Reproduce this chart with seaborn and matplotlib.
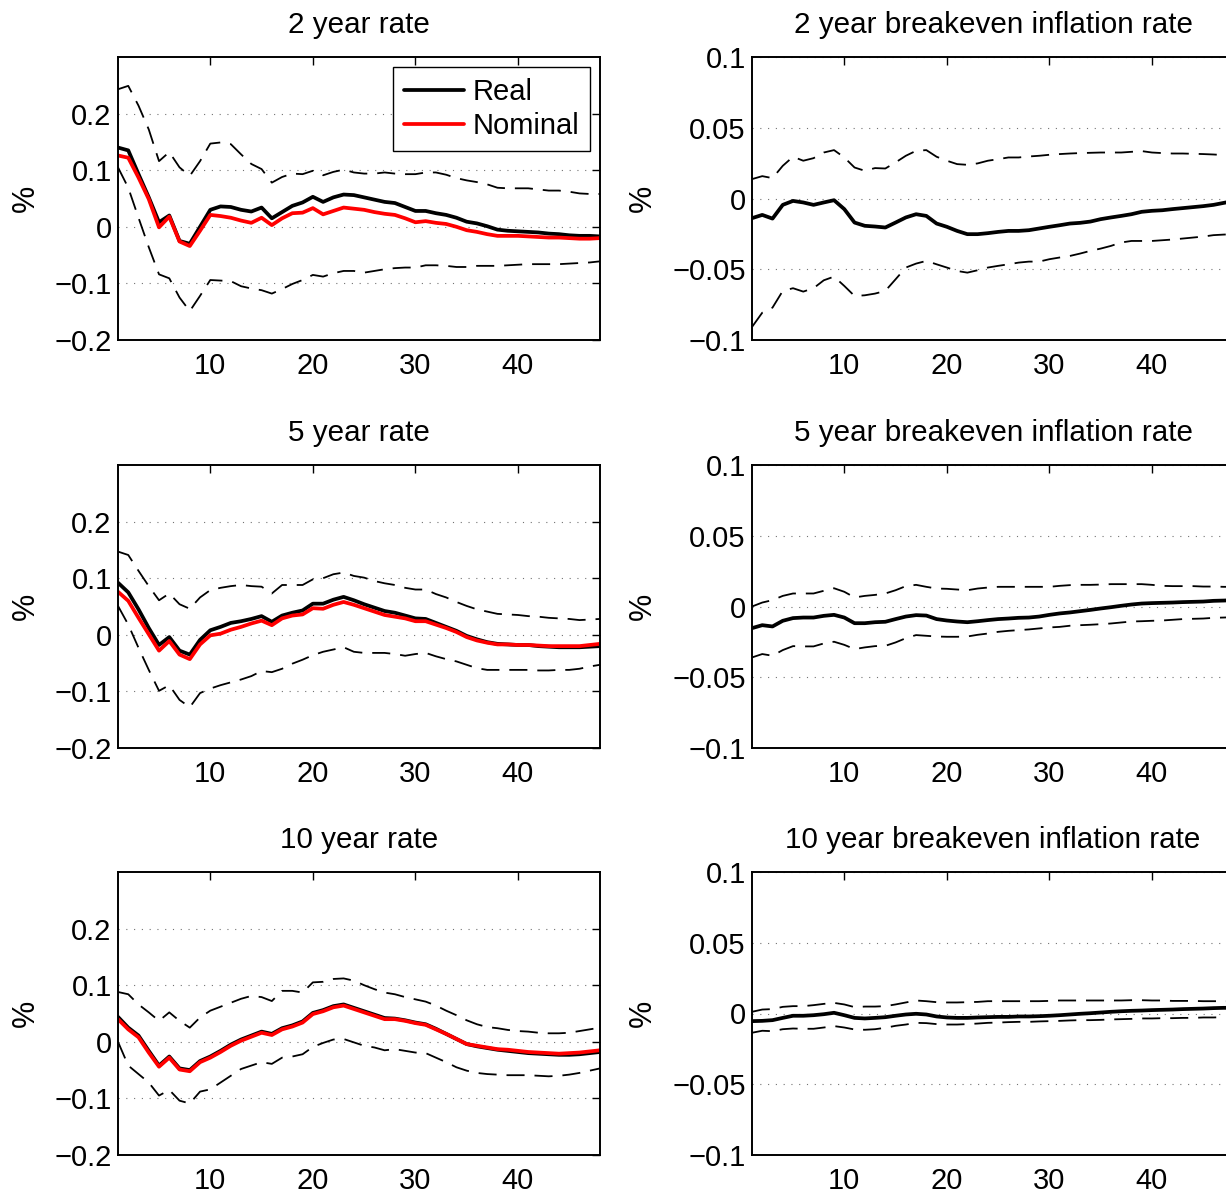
import matplotlib
matplotlib.use("Agg")
import matplotlib.pyplot as plt
import seaborn as sns

# Impulse-response horizon (months)
horizon = list(range(1, 49))

# ---- 2 year rate ----
real_2y = [0.140, 0.135, 0.093, 0.052, 0.008, 0.020, -0.025, -0.030, 0.000, 0.030,
           0.036, 0.035, 0.030, 0.027, 0.034, 0.015, 0.026, 0.037, 0.043, 0.053,
           0.044, 0.052, 0.057, 0.056, 0.052, 0.048, 0.044, 0.042, 0.035, 0.028,
           0.028, 0.024, 0.021, 0.016, 0.009, 0.006, 0.001, -0.005, -0.007, -0.008,
           -0.009, -0.010, -0.012, -0.013, -0.015, -0.016, -0.016, -0.017]
nominal_2y = [0.126, 0.122, 0.087, 0.049, -0.001, 0.018, -0.026, -0.034, -0.007, 0.021,
              0.019, 0.016, 0.011, 0.007, 0.016, 0.003, 0.015, 0.024, 0.025, 0.033,
              0.022, 0.028, 0.034, 0.032, 0.030, 0.026, 0.023, 0.021, 0.015, 0.008,
              0.010, 0.007, 0.005, 0.000, -0.006, -0.009, -0.013, -0.016, -0.016, -0.016,
              -0.017, -0.018, -0.019, -0.019, -0.020, -0.021, -0.021, -0.020]
upper_2y = [0.243, 0.249, 0.214, 0.172, 0.116, 0.132, 0.105, 0.090, 0.116, 0.147,
            0.149, 0.146, 0.128, 0.111, 0.102, 0.078, 0.088, 0.094, 0.093, 0.099,
            0.091, 0.097, 0.101, 0.096, 0.094, 0.094, 0.096, 0.094, 0.093, 0.093,
            0.096, 0.096, 0.092, 0.086, 0.082, 0.079, 0.075, 0.069, 0.068, 0.068,
            0.068, 0.066, 0.064, 0.064, 0.062, 0.059, 0.058, 0.058]
lower_2y = [0.105, 0.069, 0.016, -0.036, -0.084, -0.091, -0.125, -0.149, -0.122, -0.094,
            -0.095, -0.096, -0.105, -0.109, -0.112, -0.118, -0.110, -0.101, -0.094, -0.085,
            -0.088, -0.082, -0.078, -0.078, -0.081, -0.078, -0.075, -0.073, -0.072, -0.072,
            -0.068, -0.068, -0.069, -0.071, -0.071, -0.069, -0.069, -0.069, -0.068, -0.067,
            -0.066, -0.066, -0.066, -0.066, -0.065, -0.064, -0.063, -0.061]

# ---- 5 year rate ----
real_5y = [0.092, 0.075, 0.045, 0.012, -0.018, -0.004, -0.028, -0.035, -0.009, 0.008,
           0.014, 0.021, 0.024, 0.028, 0.033, 0.023, 0.034, 0.039, 0.043, 0.055,
           0.055, 0.062, 0.067, 0.061, 0.054, 0.048, 0.042, 0.039, 0.034, 0.029,
           0.028, 0.021, 0.014, 0.007, -0.002, -0.008, -0.013, -0.016, -0.017, -0.018,
           -0.018, -0.020, -0.021, -0.022, -0.022, -0.022, -0.021, -0.020]
nominal_5y = [0.076, 0.060, 0.030, 0.001, -0.028, -0.011, -0.035, -0.043, -0.017, -0.001,
              0.002, 0.009, 0.014, 0.020, 0.025, 0.017, 0.029, 0.034, 0.036, 0.047,
              0.046, 0.053, 0.058, 0.053, 0.047, 0.041, 0.035, 0.032, 0.029, 0.024,
              0.024, 0.018, 0.012, 0.005, -0.004, -0.010, -0.014, -0.017, -0.017, -0.018,
              -0.018, -0.019, -0.020, -0.020, -0.020, -0.020, -0.018, -0.016]
upper_5y = [0.147, 0.141, 0.113, 0.086, 0.061, 0.073, 0.054, 0.046, 0.066, 0.079,
            0.083, 0.086, 0.088, 0.086, 0.085, 0.073, 0.088, 0.088, 0.088, 0.098,
            0.100, 0.107, 0.110, 0.104, 0.101, 0.095, 0.091, 0.088, 0.083, 0.080,
            0.080, 0.072, 0.066, 0.058, 0.051, 0.045, 0.041, 0.037, 0.036, 0.035,
            0.033, 0.032, 0.030, 0.029, 0.028, 0.026, 0.027, 0.028]
lower_5y = [0.051, 0.018, -0.023, -0.062, -0.099, -0.089, -0.115, -0.128, -0.103, -0.095,
            -0.089, -0.084, -0.079, -0.073, -0.064, -0.066, -0.060, -0.051, -0.044, -0.036,
            -0.030, -0.026, -0.022, -0.030, -0.032, -0.032, -0.032, -0.034, -0.037, -0.034,
            -0.032, -0.038, -0.043, -0.047, -0.053, -0.059, -0.062, -0.062, -0.062, -0.062,
            -0.062, -0.063, -0.063, -0.062, -0.062, -0.060, -0.056, -0.053]

# ---- 10 year rate ----
real_10y = [0.044, 0.025, 0.011, -0.016, -0.042, -0.026, -0.047, -0.050, -0.034, -0.026,
            -0.016, -0.005, 0.004, 0.011, 0.018, 0.014, 0.024, 0.029, 0.036, 0.051,
            0.056, 0.063, 0.066, 0.060, 0.054, 0.048, 0.042, 0.041, 0.038, 0.034,
            0.031, 0.023, 0.014, 0.005, -0.004, -0.008, -0.011, -0.014, -0.016, -0.018,
            -0.020, -0.021, -0.022, -0.023, -0.023, -0.022, -0.020, -0.018]
nominal_10y = [0.040, 0.022, 0.008, -0.019, -0.044, -0.028, -0.049, -0.052, -0.036, -0.028,
               -0.018, -0.007, 0.002, 0.009, 0.016, 0.012, 0.022, 0.027, 0.034, 0.049,
               0.054, 0.061, 0.064, 0.058, 0.052, 0.046, 0.040, 0.040, 0.037, 0.033,
               0.030, 0.022, 0.014, 0.005, -0.004, -0.007, -0.010, -0.013, -0.014, -0.016,
               -0.018, -0.019, -0.020, -0.021, -0.020, -0.019, -0.017, -0.015]
upper_10y = [0.088, 0.084, 0.066, 0.052, 0.037, 0.052, 0.037, 0.025, 0.043, 0.055,
             0.062, 0.069, 0.076, 0.081, 0.079, 0.072, 0.090, 0.090, 0.087, 0.105,
             0.106, 0.111, 0.112, 0.108, 0.100, 0.093, 0.087, 0.084, 0.079, 0.075,
             0.071, 0.064, 0.055, 0.047, 0.038, 0.031, 0.026, 0.024, 0.021, 0.019,
             0.018, 0.016, 0.015, 0.015, 0.016, 0.019, 0.022, 0.025]
lower_10y = [0.000, -0.042, -0.057, -0.072, -0.095, -0.085, -0.104, -0.109, -0.088, -0.084,
             -0.072, -0.060, -0.048, -0.042, -0.036, -0.039, -0.028, -0.026, -0.022, -0.009,
             -0.002, 0.004, 0.005, -0.001, -0.007, -0.010, -0.015, -0.013, -0.016, -0.019,
             -0.020, -0.028, -0.036, -0.045, -0.051, -0.055, -0.057, -0.058, -0.059, -0.059,
             -0.059, -0.060, -0.061, -0.060, -0.058, -0.055, -0.051, -0.047]

# ---- 2 year breakeven inflation rate ----
bei_2y = [-0.0139, -0.0116, -0.0142, -0.0045, -0.0017, -0.0028, -0.0045, -0.0028, -0.0012, -0.0075,
          -0.0170, -0.0193, -0.0198, -0.0205, -0.0170, -0.0134, -0.0111, -0.0123, -0.0177, -0.0200,
          -0.0229, -0.0252, -0.0252, -0.0245, -0.0236, -0.0229, -0.0229, -0.0224, -0.0212, -0.0200,
          -0.0189, -0.0177, -0.0172, -0.0163, -0.0146, -0.0134, -0.0123, -0.0111, -0.0094, -0.0087,
          -0.0083, -0.0075, -0.0068, -0.0061, -0.0054, -0.0045, -0.0031, -0.0017]
bei_2y_upper = [0.0137, 0.0158, 0.0144, 0.0231, 0.0295, 0.0267, 0.0285, 0.0325, 0.0342, 0.0290,
                0.0219, 0.0196, 0.0215, 0.0212, 0.0255, 0.0302, 0.0337, 0.0342, 0.0295, 0.0267,
                0.0243, 0.0238, 0.0248, 0.0267, 0.0278, 0.0290, 0.0290, 0.0297, 0.0302, 0.0309,
                0.0314, 0.0318, 0.0321, 0.0323, 0.0325, 0.0325, 0.0325, 0.0330, 0.0335, 0.0325,
                0.0321, 0.0318, 0.0318, 0.0316, 0.0314, 0.0311, 0.0307, 0.0302]
bei_2y_lower = [-0.0908, -0.0807, -0.0771, -0.0653, -0.0634, -0.0658, -0.0634, -0.0578, -0.0552, -0.0618,
                -0.0689, -0.0684, -0.0672, -0.0653, -0.0571, -0.0488, -0.0460, -0.0441, -0.0465, -0.0488,
                -0.0512, -0.0524, -0.0507, -0.0488, -0.0476, -0.0465, -0.0453, -0.0446, -0.0446, -0.0429,
                -0.0417, -0.0406, -0.0389, -0.0370, -0.0354, -0.0335, -0.0311, -0.0300, -0.0300, -0.0300,
                -0.0295, -0.0290, -0.0283, -0.0276, -0.0269, -0.0259, -0.0255, -0.0252]

# ---- 5 year breakeven inflation rate ----
bei_5y = [-0.0153, -0.0132, -0.0141, -0.0101, -0.0082, -0.0078, -0.0078, -0.0066, -0.0059, -0.0078,
          -0.0118, -0.0118, -0.0111, -0.0108, -0.0089, -0.0071, -0.0061, -0.0064, -0.0089, -0.0099,
          -0.0106, -0.0111, -0.0104, -0.0096, -0.0089, -0.0085, -0.0080, -0.0078, -0.0071, -0.0059,
          -0.0049, -0.0042, -0.0033, -0.0024, -0.0014, -0.0005, 0.0005, 0.0014, 0.0021, 0.0024,
          0.0026, 0.0028, 0.0031, 0.0033, 0.0035, 0.0040, 0.0042, 0.0045]
bei_5y_upper = [0.0000, 0.0028, 0.0045, 0.0075, 0.0092, 0.0092, 0.0092, 0.0111, 0.0129, 0.0104,
                0.0064, 0.0075, 0.0082, 0.0092, 0.0115, 0.0144, 0.0153, 0.0139, 0.0127, 0.0125,
                0.0120, 0.0115, 0.0127, 0.0134, 0.0139, 0.0139, 0.0139, 0.0139, 0.0139, 0.0139,
                0.0146, 0.0151, 0.0153, 0.0153, 0.0155, 0.0158, 0.0158, 0.0158, 0.0158, 0.0153,
                0.0146, 0.0144, 0.0144, 0.0144, 0.0141, 0.0141, 0.0139, 0.0139]
bei_5y_lower = [-0.0360, -0.0336, -0.0348, -0.0308, -0.0280, -0.0282, -0.0282, -0.0261, -0.0249, -0.0271,
                -0.0301, -0.0289, -0.0280, -0.0278, -0.0254, -0.0224, -0.0202, -0.0207, -0.0212, -0.0214,
                -0.0214, -0.0212, -0.0200, -0.0191, -0.0179, -0.0172, -0.0167, -0.0162, -0.0155, -0.0148,
                -0.0144, -0.0136, -0.0132, -0.0129, -0.0125, -0.0120, -0.0113, -0.0106, -0.0104, -0.0101,
                -0.0099, -0.0094, -0.0089, -0.0087, -0.0085, -0.0080, -0.0078, -0.0075]

# ---- 10 year breakeven inflation rate ----
bei_10y = [-0.0054, -0.0052, -0.0047, -0.0031, -0.0016, -0.0016, -0.0012, -0.0005, 0.0005, -0.0012,
           -0.0031, -0.0035, -0.0031, -0.0026, -0.0016, -0.0007, -0.0002, -0.0007, -0.0021, -0.0028,
           -0.0031, -0.0031, -0.0028, -0.0026, -0.0024, -0.0024, -0.0021, -0.0021, -0.0019, -0.0016,
           -0.0012, -0.0007, -0.0002, 0.0002, 0.0007, 0.0012, 0.0016, 0.0019, 0.0021, 0.0024,
           0.0026, 0.0028, 0.0031, 0.0033, 0.0035, 0.0038, 0.0040, 0.0040]
bei_10y_upper = [0.0012, 0.0028, 0.0031, 0.0047, 0.0052, 0.0052, 0.0059, 0.0068, 0.0075, 0.0064,
                 0.0045, 0.0049, 0.0049, 0.0052, 0.0064, 0.0078, 0.0092, 0.0087, 0.0080, 0.0078,
                 0.0078, 0.0080, 0.0082, 0.0087, 0.0087, 0.0087, 0.0087, 0.0087, 0.0087, 0.0089,
                 0.0092, 0.0092, 0.0092, 0.0092, 0.0092, 0.0092, 0.0092, 0.0094, 0.0094, 0.0092,
                 0.0092, 0.0089, 0.0089, 0.0089, 0.0087, 0.0087, 0.0087, 0.0087]
bei_10y_lower = [-0.0136, -0.0122, -0.0125, -0.0111, -0.0106, -0.0108, -0.0108, -0.0099, -0.0089, -0.0099,
                 -0.0113, -0.0115, -0.0111, -0.0101, -0.0087, -0.0078, -0.0066, -0.0068, -0.0075, -0.0078,
                 -0.0078, -0.0075, -0.0071, -0.0066, -0.0064, -0.0061, -0.0059, -0.0059, -0.0056, -0.0054,
                 -0.0052, -0.0049, -0.0047, -0.0047, -0.0045, -0.0042, -0.0040, -0.0038, -0.0035, -0.0035,
                 -0.0033, -0.0033, -0.0031, -0.0031, -0.0028, -0.0028, -0.0026, -0.0026]

# Titles and tick labels
rate_titles = ["2 year rate", "5 year rate", "10 year rate"]
bei_titles = ["2 year breakeven inflation rate", "5 year breakeven inflation rate",
              "10 year breakeven inflation rate"]
x_ticks = [10, 20, 30, 40]
rate_yticks = [-0.2, -0.1, 0.0, 0.1, 0.2]
rate_yticklabels = ["\u22120.2", "\u22120.1", "0", "0.1", "0.2"]
bei_yticks = [-0.1, -0.05, 0.0, 0.05, 0.1]
bei_yticklabels = ["\u22120.1", "\u22120.05", "0", "0.05", "0.1"]

sns.set_style("white")
plt.rcParams["font.family"] = ["Liberation Sans", "DejaVu Sans"]
plt.rcParams["text.color"] = "black"
plt.rcParams["axes.labelcolor"] = "black"
plt.rcParams["axes.titlecolor"] = "black"
plt.rcParams["xtick.color"] = "black"
plt.rcParams["ytick.color"] = "black"

FS = 21
FS_TITLE = 21.3
fig = plt.figure(figsize=(12.26, 11.94), dpi=100)

W, H = 1226.0, 1194.0
col_x = [118, 752]
col_w = 482
row_top = [57, 465, 872]
row_h = 283

def make_axes(col, row):
    left = col_x[col] / W
    bottom = 1 - (row_top[row] + row_h) / H
    return fig.add_axes([left, bottom, col_w / W, row_h / H])

def style_axes(ax, title, yticks, yticklabels, ylim):
    ax.set_xlim(1, 48)
    ax.set_ylim(*ylim)
    ax.set_xticks(x_ticks)
    ax.set_xticklabels([str(t) for t in x_ticks])
    ax.set_yticks(yticks)
    ax.set_yticklabels(yticklabels)
    ax.tick_params(axis="both", direction="in", length=6, width=1.0, color="black",
                   top=True, right=True, labelsize=FS, labelcolor="black")
    ax.tick_params(axis="x", pad=8.5)
    ax.tick_params(axis="y", pad=4.5)
    ax.yaxis.grid(True, linestyle=(0, (1, 6)), color="0.45", linewidth=0.8)
    ax.xaxis.grid(False)
    for sp in ax.spines.values():
        sp.set_color("black")
        sp.set_linewidth(1.4)
        sp.set_visible(True)
    ax.set_title(title, fontsize=FS_TITLE, pad=17, color="black")
    ax.set_ylabel("%", fontsize=FS + 1, labelpad=10, color="black")
    ax.set_xlabel("")

DASH = (0, (10, 5.5))
LW_MAIN = 2.7
LW_BAND = 1.3

rate_sets = [
    (real_2y, nominal_2y, upper_2y, lower_2y),
    (real_5y, nominal_5y, upper_5y, lower_5y),
    (real_10y, nominal_10y, upper_10y, lower_10y),
]
bei_sets = [
    (bei_2y, bei_2y_upper, bei_2y_lower),
    (bei_5y, bei_5y_upper, bei_5y_lower),
    (bei_10y, bei_10y_upper, bei_10y_lower),
]

for row in range(3):
    real, nominal, up, lo = rate_sets[row]
    ax = make_axes(0, row)
    sns.lineplot(x=horizon, y=up, ax=ax, color="black", linewidth=LW_BAND, linestyle=DASH)
    sns.lineplot(x=horizon, y=lo, ax=ax, color="black", linewidth=LW_BAND, linestyle=DASH)
    sns.lineplot(x=horizon, y=real, ax=ax, color="black", linewidth=LW_MAIN, label="Real")
    sns.lineplot(x=horizon, y=nominal, ax=ax, color="#ff0000", linewidth=LW_MAIN, label="Nominal")
    style_axes(ax, rate_titles[row], rate_yticks, rate_yticklabels, (-0.2, 0.3))
    handles, labels = ax.get_legend_handles_labels()
    if ax.get_legend() is not None:
        ax.get_legend().remove()
    if row == 0:
        leg = ax.legend(handles, labels, loc="upper right",
                        bbox_to_anchor=((590 - 118) / 482, (340 - 67) / 283),
                        borderaxespad=0, fontsize=FS, frameon=True, fancybox=False,
                        edgecolor="black", framealpha=1, handlelength=2.05,
                        handletextpad=0.28, labelspacing=0.2, borderpad=0.38)
        leg.get_frame().set_linewidth(1.0)
        for t in leg.get_texts():
            t.set_color("black")

    mid, bup, blo = bei_sets[row]
    bx = make_axes(1, row)
    sns.lineplot(x=horizon, y=bup, ax=bx, color="black", linewidth=LW_BAND, linestyle=DASH)
    sns.lineplot(x=horizon, y=blo, ax=bx, color="black", linewidth=LW_BAND, linestyle=DASH)
    sns.lineplot(x=horizon, y=mid, ax=bx, color="black", linewidth=LW_MAIN)
    style_axes(bx, bei_titles[row], bei_yticks, bei_yticklabels, (-0.1, 0.1))

fig.savefig("out.png", dpi=100, facecolor="white")
